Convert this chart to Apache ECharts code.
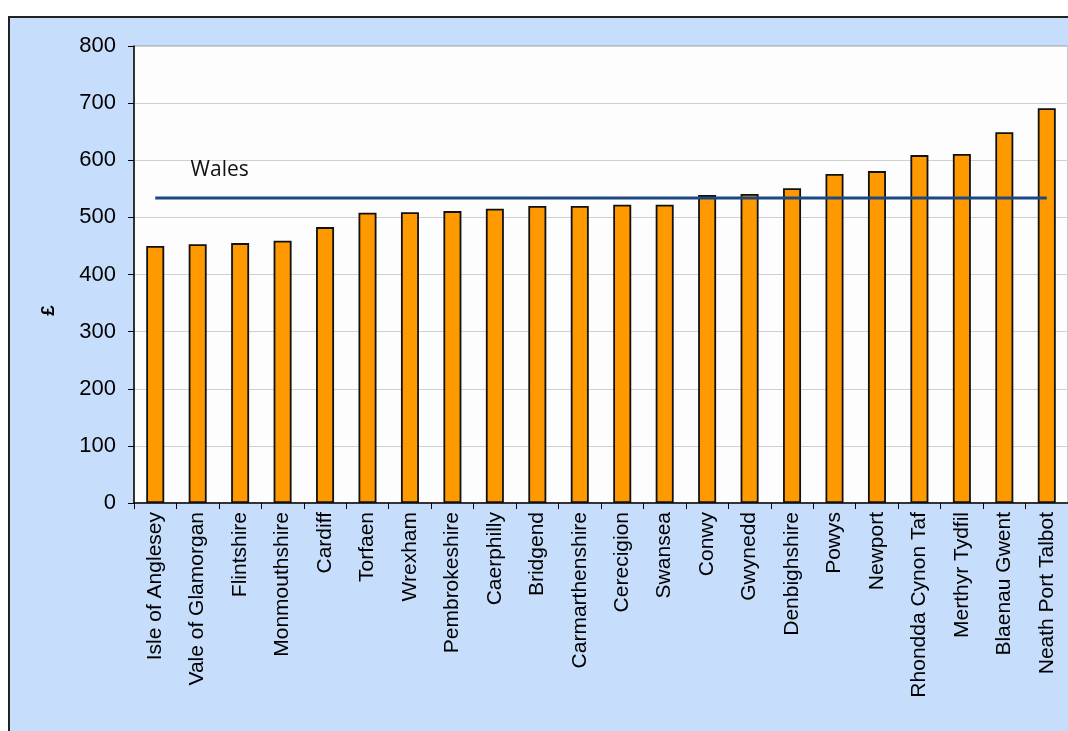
<!DOCTYPE html>
<html>
<head>
<meta charset="utf-8">
<script src="https://cdn.jsdelivr.net/npm/echarts@6/dist/echarts.min.js"></script>
<style>
html,body{margin:0;padding:0;background:#ffffff;}
#c{width:1068px;height:731px;}
</style>
</head>
<body>
<div id="c"></div>
<script>
const categories = ["Isle of Anglesey","Vale of Glamorgan","Flintshire","Monmouthshire","Cardiff","Torfaen","Wrexham","Pembrokeshire","Caerphilly","Bridgend","Carmarthenshire","Cerecigion","Swansea","Conwy","Gwynedd","Denbighshire","Powys","Newport","Rhondda Cynon Taf","Merthyr Tydfil","Blaenau Gwent","Neath Port Talbot"];
const values = [450,453,455,459,483,508,509,511,515,520,520,522,522,539,541,551,576,581,609,611,649,691];
const walesAverage = 534;
const walesLabel = "Wales";
const yAxisName = "£";
const yTicks = [0,100,200,300,400,500,600,700,800];

const chart = echarts.init(document.getElementById('c'));
const walesData = categories.map(() => walesAverage);

chart.setOption({
  animation:false,
  backgroundColor:'#ffffff',
  graphic:[{type:'rect', z:-10, silent:true,
    shape:{x:9,y:17,width:1100,height:800},
    style:{fill:'#C6DDFB', stroke:'#222', lineWidth:2}}],
  grid:{left:134, right:0, top:46, bottom:228, show:true, backgroundColor:'#FDFDFD', borderColor:'#9a9a9a', borderWidth:1, containLabel:false},
  xAxis:{type:'category', data:categories,
    axisLine:{lineStyle:{color:'#000', width:1.5}},
    axisTick:{show:true, length:6, lineStyle:{color:'#000'}},
    axisLabel:{rotate:90, interval:0, fontFamily:'Liberation Sans', fontSize:21, color:'#000', margin:9}},
  yAxis:{type:'value', min:yTicks[0], max:yTicks[yTicks.length-1], interval:100,
    name:yAxisName, nameLocation:'middle', nameGap:76, nameRotate:90,
    nameTextStyle:{fontFamily:'Liberation Sans', fontSize:19, fontWeight:'bold', color:'#000', padding:[0,72,0,0]},
    axisLine:{show:true, lineStyle:{color:'#000', width:1.5}},
    axisTick:{show:true, length:6, lineStyle:{color:'#000'}},
    axisLabel:{fontFamily:'Liberation Sans', fontSize:22, color:'#000', margin:18},
    splitLine:{lineStyle:{color:'#D0D0D0', width:1}}},
  series:[
    {type:'bar', data:values, barWidth:18,
     itemStyle:{color:'#FF9900', borderColor:'#111', borderWidth:1.8}},
    {type:'line', data:walesData, symbol:'none', z:5,
     lineStyle:{color:'#1C4883', width:3},
     markPoint:{symbol:'circle', symbolSize:1, silent:true,
       itemStyle:{color:'rgba(0,0,0,0)'},
       data:[{coord:[categories[1], walesAverage],
         label:{show:true, position:'inside', offset:[22,-28], formatter: walesLabel,
           fontFamily:'Open Sans', fontSize:21, color:'#111'}}]}}
  ]
});
</script>
</body>
</html>
